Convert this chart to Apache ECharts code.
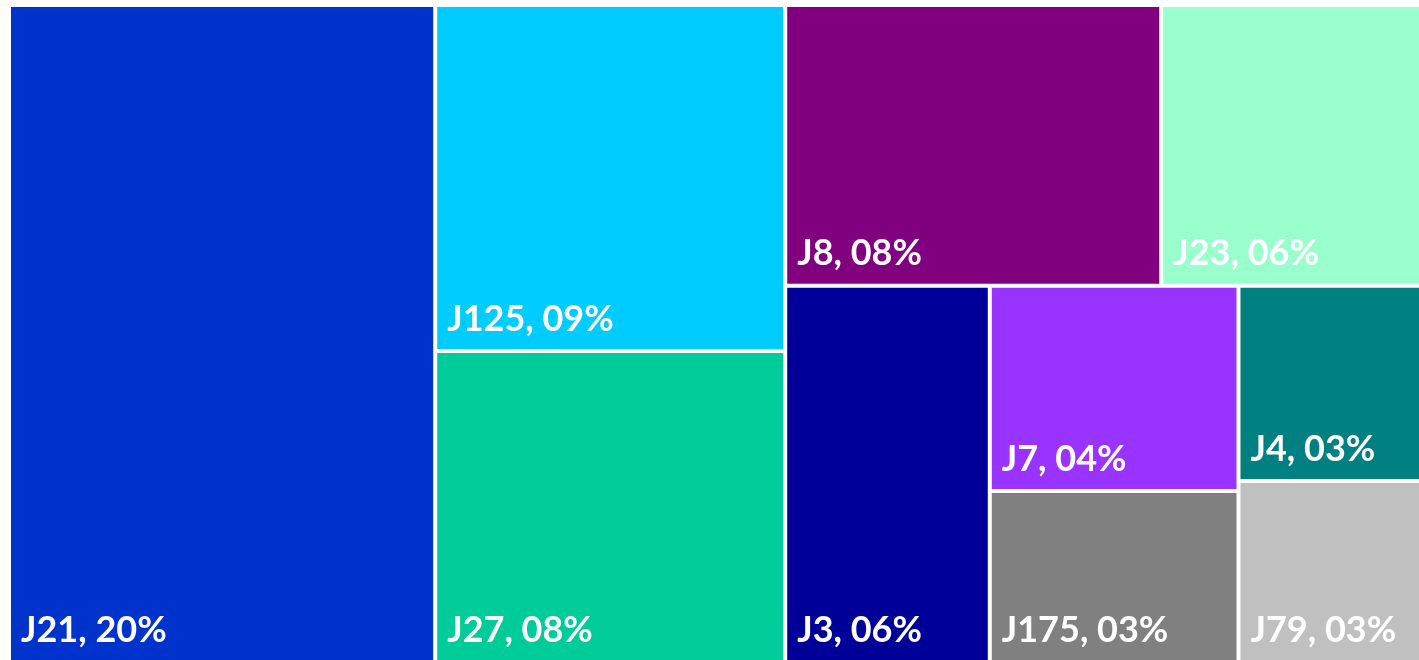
<!DOCTYPE html>
<html>
<head>
<meta charset="utf-8">
<script src="https://cdn.jsdelivr.net/npm/echarts@6/dist/echarts.min.js"></script>
<style>
html,body{margin:0;padding:0;background:#fff;}
#chart{width:1419px;height:660px;}
</style>
</head>
<body>
<div id="chart"></div>
<script>
// Categories (in the order shown)
const categories = ['J21', 'J125', 'J27', 'J8', 'J23', 'J3', 'J7', 'J175', 'J4', 'J79'];
// Relative sizes
const values = [277525, 120056, 107841, 104625, 72261, 76296, 50592, 42160, 35308, 32760];
// Percent labels as printed
const pctLabels = ['20%', '09%', '08%', '08%', '06%', '06%', '04%', '03%', '03%', '03%'];
// Palette
const palette = ['#0033CC', '#00CCFF', '#00CC99', '#800080', '#99FFCC', '#000099', '#9933FF', '#808080', '#008080', '#C0C0C0'];

const data = categories.map((c, i) => ({
  name: c,
  value: values[i],
  pct: pctLabels[i],
  itemStyle: { color: palette[i] }
}));

const chart = echarts.init(document.getElementById('chart'), null, { renderer: 'canvas' });
chart.setOption({
  animation: false,
  series: [{
    type: 'treemap',
    left: 11, top: 7, right: 0, bottom: 0,
    width: 1408, height: 653,
    sort: false,
    squareRatio: 1,
    roam: false,
    nodeClick: false,
    breadcrumb: { show: false },
    itemStyle: { borderWidth: 0, gapWidth: 4, borderColor: '#fff' },
    label: {
      show: true,
      position: 'insideBottomLeft',
      distance: 5,
      offset: [0, -2],
      color: '#fff',
      fontFamily: 'Lato',
      fontWeight: 'bold',
      fontSize: 36,
      formatter: p => p.name + ', ' + p.data.pct
    },
    data: data
  }]
});
</script>
</body>
</html>
